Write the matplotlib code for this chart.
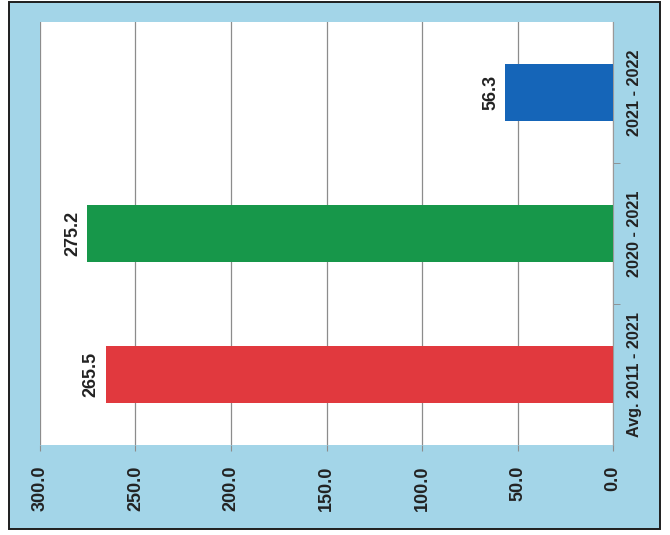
import matplotlib
matplotlib.use("Agg")
import matplotlib.pyplot as plt
from matplotlib import font_manager
from matplotlib.patches import Rectangle
from matplotlib.ticker import FormatStrFormatter

categories = ["Avg. 2011 - 2021", "2020 - 2021", "2021 - 2022"]
values = [265.5, 275.2, 56.3]
bar_colors = ["#e1393e", "#17974a", "#1565b8"]
value_ticks = [0, 50, 100, 150, 200, 250, 300]

# regular-width Liberation Sans Bold (avoid the Narrow variant)
bold_path = None
for f in font_manager.findSystemFonts():
    if f.endswith("LiberationSans-Bold.ttf"):
        bold_path = f
        break


def bold_font(size):
    if bold_path:
        return font_manager.FontProperties(fname=bold_path, size=size)
    return font_manager.FontProperties(family="DejaVu Sans", weight="bold", size=size)


fig = plt.figure(figsize=(6.7, 5.35), dpi=100)
fig.patch.set_facecolor("white")

# light blue panel with a dark frame behind the plot
bg = fig.add_axes([0, 0, 1, 1], zorder=-1)
bg.set_axis_off()
bg.set_xlim(0, 670)
bg.set_ylim(0, 535)
bg.add_patch(Rectangle((9, 6), 651, 527, facecolor="#a3d5e8",
                       edgecolor="#1e1e1e", linewidth=1.4))

ax = fig.add_axes([40 / 670, 90 / 535, 573 / 670, 423 / 535], zorder=1)
ax.set_facecolor("white")

pos = list(range(len(categories)))
ax.barh(pos, values, height=0.41, color=bar_colors, zorder=3)

ax.set_xlim(300, 0)
ax.set_ylim(-0.5, len(categories) - 0.5)
ax.set_xticks(value_ticks)
ax.xaxis.set_major_formatter(FormatStrFormatter("%.1f"))
ax.grid(axis="x", color="#8c8c8c", linewidth=0.9, zorder=1)

ax.tick_params(axis="x", labelrotation=90, pad=11,
               length=4, color="#8c8c8c", labelcolor="#222222")
ax.set_xticklabels([f"{t:.1f}" for t in value_ticks], fontproperties=bold_font(13))

ax.yaxis.tick_right()
ax.set_yticks(pos)
ax.set_yticklabels(categories, rotation=90, va="center",
                   fontproperties=bold_font(11.7), color="#222222")
ax.set_yticks([p + 0.5 for p in pos[:-1]], minor=True)
ax.tick_params(axis="y", which="major", length=0, pad=10)
ax.tick_params(axis="y", which="minor", length=5, color="#888888")

for spine in ax.spines.values():
    spine.set_visible(False)
ax.spines["right"].set_visible(True)
ax.spines["right"].set_color("#999999")

for p, v in zip(pos, values):
    ax.annotate(f"{v:.1f}", xy=(v, p), xytext=(-4.5, 0),
                textcoords="offset points", rotation=90,
                ha="right", va="center", fontproperties=bold_font(13),
                color="#222222", zorder=4)

fig.savefig("out.png", dpi=100)
